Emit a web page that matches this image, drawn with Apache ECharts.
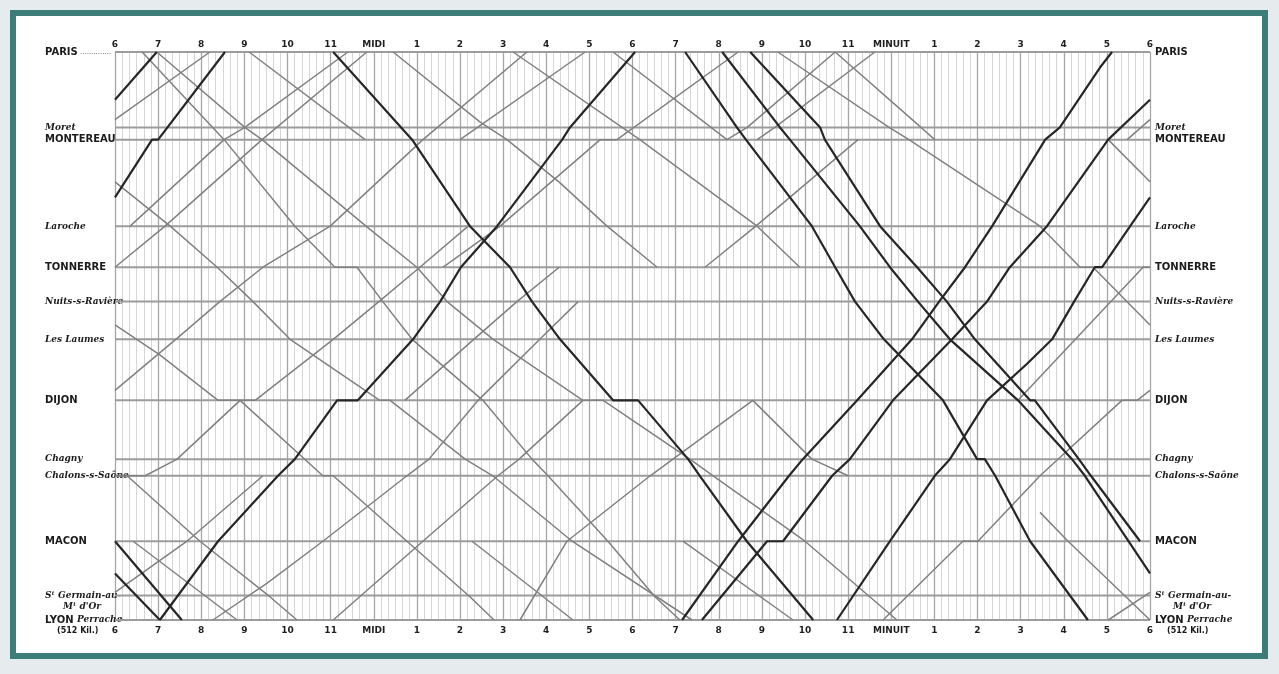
<!DOCTYPE html>
<html><head><meta charset="utf-8">
<script src="https://cdn.jsdelivr.net/npm/echarts@6/dist/echarts.min.js"></script>
<style>
html,body{margin:0;padding:0;background:#e6ebed;width:1279px;height:674px;overflow:hidden;}
#frame{position:absolute;left:10px;top:10px;width:1258px;height:649px;box-sizing:border-box;border:6px solid #3c7d7a;background:#fff;}
#chart{width:1246px;height:637px;}
</style></head><body>
<div id="frame"><div id="chart"></div></div>
<script>
// Stations (distance from Paris, km)
const stationNames = ['PARIS','Moret','MONTEREAU','Laroche','TONNERRE','Nuits-s-Ravière','Les Laumes','DIJON','Chagny','Chalons-s-Saône','MACON',"St Germain-au-Mt d'Or",'LYON Perrache (512 Kil.)'];
const stationKm = [0, 68, 79, 157, 194, 225, 259, 314, 367, 382, 441, 490, 512];
const stationMajor = [true,false,true,false,true,false,false,true,false,false,true,false,true];

// Hour tick labels, 6 h (morning) to 6 h next morning
const hourLabels = ['6','7','8','9','10','11','MIDI','1','2','3','4','5','6','7','8','9','10','11','MINUIT','1','2','3','4','5','6'];

// Trains: [hour (6..30), km]; null = wraps over the right edge back to the left
const expressTrains = [
  [[11.06,0],[12.89,79],[14.23,157],[15.16,194],[15.67,225],[16.32,259],[17.55,314],[18.13,314],[19.29,367],[19.56,382],[20.65,441],[22.19,512]],
  [[7.04,512],[8.39,441],[9.78,382],[10.17,367],[11.15,314],[11.63,314],[12.91,259],[13.54,225],[14.02,194],[14.86,157],[16.37,79],[16.55,68],[18.06,0]],
  [[19.22,0],[20.42,68],[20.63,79],[22.16,157],[22.70,194],[23.16,225],[23.83,259],[25.20,314],[25.99,367],[26.17,367],[26.41,382],[27.22,441],[28.56,512]],
  [[20.08,0],[21.42,68],[21.65,79],[23.27,157],[23.97,194],[24.62,225],[25.36,259],[26.94,314],[28.19,367],[28.49,382],[30,470],null,[6,470],[7.04,512]],
  [[20.73,0],[22.35,68],[22.46,79],[23.74,157],[24.60,194],[25.29,225],[25.94,259],[27.22,314],[27.33,314],[28.35,367],[28.63,382],[29.77,441],null,[6,441],[7.55,512]],
  [[19.15,512],[20.45,441],[21.63,382],[21.95,367],[23.21,314],[24.48,259],[25.11,225],[25.71,194],[26.34,157],[27.57,79],[27.91,68],[28.84,14],[29.12,0]],
  [[19.61,512],[21.12,441],[21.49,441],[22.63,382],[23.04,367],[24.04,314],[25.41,259],[26.22,225],[26.75,194],[27.61,157],[29.03,79],[30,43],null,[6,43],[6.97,0]],
  [[22.74,512],[23.97,441],[25.01,382],[25.36,367],[26.22,314],[27.15,281],[27.73,259],[28.24,225],[28.72,194],[28.89,194],[29.54,157],[30,131],null,[6,131],[6.86,79],[7.0,79],[8.55,0]]
];
const localTrains = [
  [[29.47,79],[30,61],null,[6,61],[8.20,0]],
  [[6.63,0],[8.53,79],[10.17,157],[11.10,194],[11.61,194],[12.21,225],[12.89,259],[14.53,314],[15.67,367],[16.04,382],[17.43,441],[18.52,491],[19.10,512]],
  [[6.97,0],[9.01,68],[9.41,79],[11.82,157],[13.00,194],[13.70,225],[14.77,259],[16.85,314],[17.32,314],[19.33,367],[19.87,382],[22.00,441],[24.13,512]],
  [[9.11,0],[11.80,79]],
  [[29.03,79],[30,117],null,[6,117],[7.28,157],[8.37,194],[9.20,225],[10.06,259],[12.14,314],[12.38,314],[14.12,367],[14.76,382],[16.60,441],[19.38,512]],
  [[23.81,512],[25.66,441],[26.01,441],[27.45,382],[29.35,314],[29.70,314],[30,305],null,[6,305],[7.41,259],[8.43,225],[9.43,194],[10.99,157],[13.14,79],[15.55,0]],
  [[26.94,314],[29.84,194],[30,194],null,[6,194],[7.16,157],[9.41,79],[11.84,0]],
  [[6.35,157],[8.53,79],[9.01,68],[11.40,0]],
  [[12.45,0],[14.46,63],[15.09,79],[16.32,118],[17.41,157],[18.57,194]],
  [[21.37,0],[23.95,68],[24.41,79],[27.45,157],[28.38,194],[28.68,194],[30,246],null,[6,246],[7.04,273],[8.39,314],[8.90,314],[10.82,382],[11.06,382],[12.77,441],[14.23,491],[14.79,512]],
  [[6,382],[6.70,382],[7.44,367],[8.90,314],[9.25,314],[11.06,259],[12.12,225],[13.07,194],[14.19,157]],
  [[6,382],[6.28,382],[7.97,441],[9.59,491],[10.22,512]],
  [[29.03,512],[30,487],null,[6,487],[7.67,441],[9.43,382]],
  [[6.42,441],[8.83,512]],
  [[8.27,512],[9.52,479],[10.82,441],[12.77,382],[13.28,367],[14.42,314],[15.85,259],[16.74,225]],
  [[27.45,415],[28.10,441],[30,512]],
  [[15.23,0],[18.17,79],[20.89,157],[21.88,194]],
  [[14.0,79],[16.90,0]],
  [[17.55,0],[20.19,79],[20.66,68],[22.70,0]],
  [[13.61,194],[14.93,157],[17.25,79],[17.64,79],[20.45,0]],
  [[15.39,512],[16.48,441],[18.41,382],[18.94,367],[20.79,314]],
  [[20.79,314],[22.16,367],[23.00,382]],
  [[14.28,441],[16.62,512]],
  [[19.17,441],[21.72,512]],
  [[12.72,314],[14.32,259],[15.32,225],[16.30,194]],
  [[11.06,512],[13.14,441],[14.88,382],[15.37,367],[16.85,314]],
  [[22.70,0],[24.69,68],[25.01,79]],
  [[20.89,79],[21.30,68],[23.62,0]],
  [[19.68,194],[20.86,157],[23.23,79]]
];

function segments(pts){
  const segs=[[]];
  pts.forEach(p=>{ if(p===null) segs.push([]); else segs[segs.length-1].push(p); });
  return segs.filter(s=>s.length>1);
}

const series = [];
stationKm.forEach(k=>{
  series.push({type:'line', data:[[6,k],[30,k]], showSymbol:false, silent:true, z:2,
    lineStyle:{color:'#9c9c9c', width:2}});
});
localTrains.forEach(t=>segments(t).forEach(s=>series.push({type:'line', data:s, showSymbol:false, silent:true, z:3,
    lineStyle:{color:'#808080', width:1.5}})));
expressTrains.forEach(t=>segments(t).forEach(s=>series.push({type:'line', data:s, showSymbol:false, silent:true, z:4,
    lineStyle:{color:'#262626', width:2.2}})));

function stationLabel(v, left){
  const i = stationKm.indexOf(Math.round(v));
  if(i<0) return '';
  const n = stationNames[i];
  if(i===0) return left ? '{c|PARIS}{d| ..............}' : '{c|PARIS}';
  if(i===11) return "{e| }\n{s|Sᵗ Germain-au-}\n{s2|Mᵗ d'Or}";
  if(i===12) return '{e| }\n{c|LYON }{s|Perrache}\n{k|(512 Kil.)}';
  return stationMajor[i] ? '{c|'+n+'}' : '{s|'+n+'}';
}
const rich = {
  c:{fontFamily:'DejaVu Sans', fontWeight:'bold', fontSize:10, color:'#1b1b1b', lineHeight:11},
  s:{fontFamily:'DejaVu Serif', fontStyle:'italic', fontWeight:'bold', fontSize:9, color:'#1b1b1b', lineHeight:11},
  s2:{fontFamily:'DejaVu Serif', fontStyle:'italic', fontWeight:'bold', fontSize:9, color:'#1b1b1b', lineHeight:11, padding:[0,0,0,18]},
  d:{fontFamily:'DejaVu Sans', fontSize:7, color:'#333', lineHeight:11},
  k:{fontFamily:'DejaVu Sans', fontWeight:'bold', fontSize:8, color:'#1b1b1b', lineHeight:11, padding:[0,0,0,12]},
  e:{fontSize:9, lineHeight:11}
};
const mainKm = stationKm.filter((k,i)=>i!==11);
const stgKm = [stationKm[11]];

const xCommon = {type:'value', min:6, max:30, interval:1,
  axisLine:{show:false}, axisTick:{show:false},
  axisLabel:{formatter:v=>hourLabels[Math.round(v)-6], fontFamily:'DejaVu Sans', fontWeight:'bold', fontSize:9, color:'#1e1e1e', showMinLabel:true, showMaxLabel:true}};

function yAx(pos, vals, left){
  return {type:'value', inverse:true, min:0, max:512, position:pos, axisLine:{show:false}, axisTick:{show:false}, splitLine:{show:false},
    axisLabel:{customValues:vals, formatter:v=>stationLabel(v,left), align:'left', margin:left?70:5, rich:rich,
      verticalAlign:'middle', showMinLabel:true, showMaxLabel:true, hideOverlap:false}};
}

const chart = echarts.init(document.getElementById('chart'));
chart.setOption({
  animation:false,
  backgroundColor:'#ffffff',
  grid:{left:99, top:36, width:1035, height:568},
  xAxis:[
    Object.assign({}, xCommon, {position:'bottom', axisLabel:Object.assign({}, xCommon.axisLabel, {margin:6}),
      splitLine:{show:true, lineStyle:{color:'#a6a6a6', width:1.3}},
      minorTick:{show:false, splitNumber:6},
      minorSplitLine:{show:true, lineStyle:{color:'#d6d6d6', width:1}}}),
    Object.assign({}, xCommon, {position:'top', axisLabel:Object.assign({}, xCommon.axisLabel, {margin:3}), splitLine:{show:false}})
  ],
  yAxis:[ yAx('left', mainKm, true), yAx('right', mainKm, false), yAx('left', stgKm, true), yAx('right', stgKm, false) ],
  series:series
});
</script>
</body></html>
